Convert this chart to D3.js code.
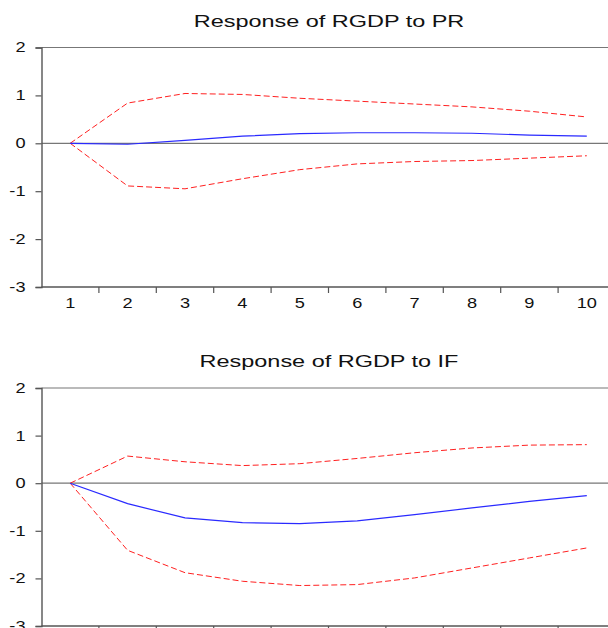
<!DOCTYPE html>
<html>
<head>
<meta charset="utf-8">
<script src="https://cdn.jsdelivr.net/npm/d3@7"></script>
<style>
  body { margin: 0; background: #fff; }
  svg { display: block; }
  text { font-family: Arial, "Liberation Sans", sans-serif; }
</style>
</head>
<body>
<svg id="irf" width="608" height="628"></svg>
<script>
// periods on the x axis
const periods = [1, 2, 3, 4, 5, 6, 7, 8, 9, 10]
const y_ticks = [2, 1, 0, -1, -2, -3]

// Response of RGDP to PR
const pr_title = "Response of RGDP to PR"
const pr_resp  = [0, -0.02, 0.06, 0.15, 0.20, 0.22, 0.22, 0.21, 0.17, 0.15]
const pr_upper = [0, 0.84, 1.04, 1.02, 0.94, 0.88, 0.82, 0.76, 0.67, 0.55]
const pr_lower = [0, -0.89, -0.95, -0.74, -0.55, -0.43, -0.38, -0.36, -0.31, -0.26]

// Response of RGDP to IF
const if_title = "Response of RGDP to IF"
const if_resp  = [0, -0.43, -0.73, -0.83, -0.85, -0.79, -0.66, -0.52, -0.38, -0.26]
const if_upper = [0, 0.57, 0.45, 0.37, 0.41, 0.52, 0.64, 0.74, 0.80, 0.81]
const if_lower = [0, -1.41, -1.88, -2.06, -2.15, -2.13, -1.99, -1.78, -1.57, -1.36]

const svg = d3.select("#irf")
const axis_color = "#555"
// the source picture is stretched sideways, so the text is too
const stretch = 1.3

const x = d3.scaleLinear().domain([0.5, 10.5]).range([41.5, 615.5])

function draw_panel(title, resp, upper, lower, top, bottom, title_y, show_x_labels) {
  const y = d3.scaleLinear().domain([-3, 2]).range([bottom, top])
  const g = svg.append("g")

  g.append("text")
    .attr("transform", `translate(329,${title_y}) scale(1.38,1)`)
    .attr("text-anchor", "middle")
    .attr("font-size", "17px")
    .attr("fill", "#111")
    .text(title)

  // top frame line and zero line
  g.append("line")
    .attr("x1", x.range()[0]).attr("x2", 608)
    .attr("y1", y(2)).attr("y2", y(2))
    .attr("stroke", "#777").attr("stroke-width", 1.2)
  g.append("line")
    .attr("x1", x.range()[0]).attr("x2", 608)
    .attr("y1", y(0)).attr("y2", y(0))
    .attr("stroke", "#777").attr("stroke-width", 1.2)

  // y axis
  const y_axis = g.append("g")
    .attr("transform", `translate(${x.range()[0]},0)`)
    .call(d3.axisLeft(y).tickValues(y_ticks).tickSize(6).tickFormat(d => String(d)))
  y_axis.select(".domain").attr("stroke", axis_color).attr("stroke-width", 1.4)
  y_axis.selectAll(".tick line").attr("stroke", axis_color).attr("stroke-width", 1.2)
  y_axis.selectAll("text")
    .attr("x", -16 / stretch)
    .attr("transform", `scale(${stretch},1)`)
    .attr("font-size", "14px").attr("fill", "#111")
    .style("font-family", "Arial, 'Liberation Sans', sans-serif")

  // x axis: tick marks between periods, labels on periods
  const x_axis = g.append("g").attr("transform", `translate(0,${bottom})`)
  x_axis.append("line")
    .attr("x1", x.range()[0]).attr("x2", 608)
    .attr("stroke", axis_color).attr("stroke-width", 1.4)
  x_axis.selectAll(".sep")
    .data(periods.slice(0, -1))
    .enter()
    .append("line")
    .attr("class", "sep")
    .attr("x1", d => x(d + 0.5)).attr("x2", d => x(d + 0.5))
    .attr("y1", 0).attr("y2", 6)
    .attr("stroke", axis_color).attr("stroke-width", 1.2)
  if (show_x_labels) {
    x_axis.selectAll(".lab")
      .data(periods)
      .enter()
      .append("text")
      .attr("class", "lab")
      .attr("transform", d => `translate(${x(d)},21) scale(${stretch},1)`)
      .attr("text-anchor", "middle")
      .attr("font-size", "14px")
      .attr("fill", "#111")
      .text(d => d)
  }

  const line = d3.line()
    .x((d, i) => x(periods[i]))
    .y(d => y(d))

  g.append("path").datum(upper)
    .attr("d", line).attr("fill", "none")
    .attr("stroke", "#ff2020").attr("stroke-width", 1)
    .attr("stroke-dasharray", "6,3")
  g.append("path").datum(lower)
    .attr("d", line).attr("fill", "none")
    .attr("stroke", "#ff2020").attr("stroke-width", 1)
    .attr("stroke-dasharray", "6,3")
  g.append("path").datum(resp)
    .attr("d", line).attr("fill", "none")
    .attr("stroke", "#2a2aff").attr("stroke-width", 1.2)
}

draw_panel(pr_title, pr_resp, pr_upper, pr_lower, 47.5, 287, 27, true)
draw_panel(if_title, if_resp, if_upper, if_lower, 388, 626, 367, false)
</script>
</body>
</html>
